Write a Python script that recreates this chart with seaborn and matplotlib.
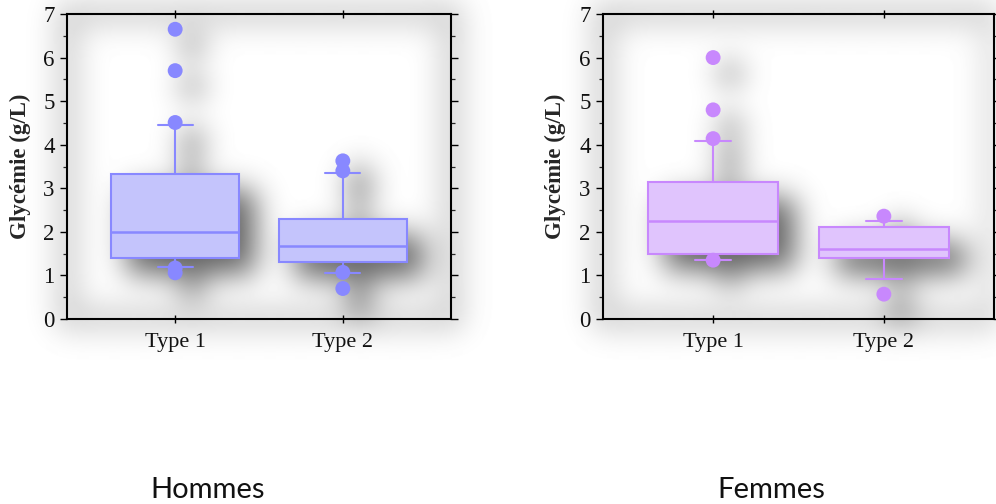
import numpy as np
import pandas as pd
import matplotlib
matplotlib.use("Agg")
import matplotlib.pyplot as plt
from matplotlib.ticker import MultipleLocator
import seaborn as sns

# ---- data ----
categories = ["Type 1", "Type 2"]

hommes_q1 = [1.39, 1.31]
hommes_med = [2.00, 1.68]
hommes_q3 = [3.32, 2.30]
hommes_whislo = [1.20, 1.06]
hommes_whishi = [4.45, 3.36]
hommes_fliers = [[6.65, 5.70, 4.51, 1.17, 1.06], [3.63, 3.40, 1.07, 0.70]]

femmes_q1 = [1.49, 1.39]
femmes_med = [2.26, 1.61]
femmes_q3 = [3.14, 2.11]
femmes_whislo = [1.35, 0.91]
femmes_whishi = [4.09, 2.26]
femmes_fliers = [[6.00, 4.80, 4.14, 1.35], [2.36, 0.57]]

panel_titles = ["Hommes", "Femmes"]
y_label = "Glycémie (g/L)"

sns.set_theme(style="white")
plt.rcParams["font.family"] = ["Liberation Serif", "DejaVu Serif"]

W, H = 996, 504
fig = plt.figure(figsize=(W / 100, H / 100), dpi=100)
fig.patch.set_facecolor("white")

bg = fig.add_axes([0, 0, 1, 1], zorder=0)
bg.set_axis_off()

axL = fig.add_axes([67 / W, (H - 319) / H, 384 / W, 305 / H], zorder=2)
axR = fig.add_axes([603 / W, (H - 319) / H, 391 / W, 305 / H], zorder=2)

panels = [
    (axL, hommes_q1, hommes_med, hommes_q3, hommes_whislo, hommes_whishi, hommes_fliers,
     "#c4c4fc", "#8888ff"),
    (axR, femmes_q1, femmes_med, femmes_q3, femmes_whislo, femmes_whishi, femmes_fliers,
     "#e0c4fd", "#c888fd"),
]

for ax, q1, med, q3, wlo, whi, fl, fc, ec in panels:
    ax.set_facecolor("none")
    stats = []
    for i, c in enumerate(categories):
        stats.append(dict(label=c, q1=q1[i], med=med[i], q3=q3[i],
                          whislo=wlo[i], whishi=whi[i], fliers=[]))
    ax.bxp(stats, positions=[0, 1], widths=0.76, capwidths=0.21,
           patch_artist=True, showfliers=False,
           boxprops=dict(facecolor=fc, edgecolor=ec, linewidth=1.5),
           medianprops=dict(color=ec, linewidth=1.8),
           whiskerprops=dict(color=ec, linewidth=1.5),
           capprops=dict(color=ec, linewidth=1.5))
    rows = []
    for i, c in enumerate(categories):
        for v in fl[i]:
            rows.append((i, v))
    df = pd.DataFrame(rows, columns=["pos", "val"])
    sns.scatterplot(data=df, x="pos", y="val", ax=ax, color=ec, s=115,
                    edgecolor="none", linewidth=0, zorder=5, legend=False)
    ax.set_xlim(-0.645, 1.645)
    ax.set_ylim(0, 7)
    ax.set_xticks([0, 1])
    ax.set_xticklabels(categories, fontsize=16)
    ax.set_yticks(range(0, 8))
    ax.set_yticklabels([str(v) for v in range(0, 8)], fontsize=16.5)
    ax.yaxis.set_minor_locator(MultipleLocator(0.5))
    ax.set_xlabel("")
    ax.set_ylabel(y_label, fontsize=16.5, fontweight="bold", labelpad=9)
    for s in ax.spines.values():
        s.set_visible(True)
        s.set_color("black")
        s.set_linewidth(1.5)
    ax.tick_params(axis="y", which="major", direction="out", length=5, width=1.0,
                   left=True, right=True, labelleft=True, labelright=False,
                   pad=4, colors="black")
    ax.tick_params(axis="y", which="minor", direction="out", length=3, width=0.9,
                   left=True, right=True)
    ax.tick_params(axis="x", which="major", direction="inout", length=6, width=1.0,
                   top=True, bottom=True, labeltop=False, pad=7, colors="black")
    for t in ax.get_xticklabels() + ax.get_yticklabels():
        t.set_color("#111111")

# ---- blurred drop shadow background (decoration) ----
fig.canvas.draw()
mask_frame = np.zeros((H, W))
mask_obj = np.zeros((H, W))
yy, xx = np.mgrid[0:H, 0:W]


def to_px(ax, x, y):
    X, Y = ax.transData.transform((x, y))
    return X, H - Y


def fill_rect(m, x0, y0, x1, y1, v=1.0):
    xa, xb = int(round(min(x0, x1))), int(round(max(x0, x1)))
    ya, yb = int(round(min(y0, y1))), int(round(max(y0, y1)))
    xa, ya = max(xa, 0), max(ya, 0)
    xb, yb = min(xb, W), min(yb, H)
    if xb > xa and yb > ya:
        m[ya:yb, xa:xb] = np.maximum(m[ya:yb, xa:xb], v)


off = 16
for ax, q1, med, q3, wlo, whi, fl, fc, ec in panels:
    x0, y0 = to_px(ax, -0.645, 7)
    x1, y1 = to_px(ax, 1.645, 0)
    t = 10
    fill_rect(mask_frame, x0 - t, y0 - t, x1 + t, y0 + t)
    fill_rect(mask_frame, x0 - t, y1 - t, x1 + t, y1 + t)
    fill_rect(mask_frame, x0 - t, y0 - t, x0 + t, y1 + t)
    fill_rect(mask_frame, x1 - t, y0 - t, x1 + t, y1 + t)
    for i in range(2):
        bx0, by0 = to_px(ax, i - 0.38, q3[i])
        bx1, by1 = to_px(ax, i + 0.38, q1[i])
        fill_rect(mask_obj, bx0 + off, by0 + off, bx1 + off, by1 + off)
        cx, wy0 = to_px(ax, i, whi[i])
        _, wy1 = to_px(ax, i, wlo[i])
        fill_rect(mask_obj, cx - 6 + off, wy0 + off, cx + 6 + off, wy1 + off, 0.9)
        for v in fl[i]:
            px_, py_ = to_px(ax, i, v)
            d = (xx - px_ - off) ** 2 + (yy - py_ - off) ** 2
            mask_obj[d < 100] = np.maximum(mask_obj[d < 100], 1.0)


def blur(m, sigma):
    r = int(3 * sigma)
    k = np.exp(-0.5 * (np.arange(-r, r + 1) / sigma) ** 2)
    k /= k.sum()
    m = np.apply_along_axis(lambda a: np.convolve(a, k, mode="same"), 1, m)
    m = np.apply_along_axis(lambda a: np.convolve(a, k, mode="same"), 0, m)
    return m


dark = 0.22 * blur(mask_frame, 15) + 0.62 * blur(mask_obj, 15)
img = np.clip(1 - dark, 0, 1)
bg.imshow(img, cmap="gray", vmin=0, vmax=1, extent=[0, 1, 0, 1],
          aspect="auto", interpolation="bilinear")
bg.set_xlim(0, 1)
bg.set_ylim(0, 1)

fig.text(208 / W, 1 - 490 / H, panel_titles[0], ha="center", va="center",
         fontsize=21, family=["Lato", "DejaVu Sans"], color="#111111")
fig.text(771 / W, 1 - 490 / H, panel_titles[1], ha="center", va="center",
         fontsize=21, family=["Lato", "DejaVu Sans"], color="#111111")

fig.savefig("out.png", dpi=100)
